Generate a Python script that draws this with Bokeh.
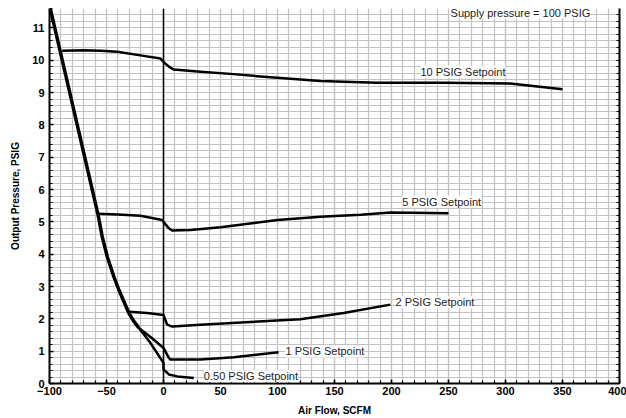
from bokeh.plotting import figure
from bokeh.models import Range1d, LinearAxis, Span, Label, SingleIntervalTicker, FixedTicker
from bokeh.embed import file_html
from bokeh.resources import INLINE

# ---- data ----
env_x = [-100, -62.5, -57.6, -53.8, -49.4, -43.6, -39.2, -30.4, -26, -21.6]
env_y = [11.7, 6.0, 5.25, 4.55, 3.93, 3.31, 2.9, 2.18, 1.92, 1.72]

sp05_x = [-21.6, -11.4, 0, 0, 4.7, 12, 26.6]
sp05_y = [1.72, 1.25, 0.64, 0.44, 0.28, 0.22, 0.17]

sp1_x = [-21.6, -10, 0, 4.7, 6.1, 32.5, 61.7, 101]
sp1_y = [1.72, 1.4, 1.1, 0.79, 0.74, 0.74, 0.81, 0.97]

sp2_x = [-30.4, -14.3, 0, 3.2, 7.6, 32.5, 76, 120, 158, 199]
sp2_y = [2.22, 2.18, 2.12, 1.82, 1.76, 1.82, 1.9, 1.99, 2.18, 2.44]

sp5_x = [-57.6, -40, -20.2, -1.2, 0, 4.7, 7.6, 23.7, 50, 100, 137.7, 173, 199, 250]
sp5_y = [5.25, 5.23, 5.19, 5.06, 5.0, 4.8, 4.73, 4.75, 4.83, 5.06, 5.16, 5.22, 5.29, 5.27]

sp10_x = [-88.9, -69.9, -55.3, -40.6, -20.2, -2.6, 0, 4.7, 9, 32.5, 61.7, 91, 137.7, 187, 246, 304, 350]
sp10_y = [10.29, 10.31, 10.29, 10.26, 10.15, 10.05, 9.95, 9.8, 9.71, 9.64, 9.57, 9.48, 9.36, 9.3, 9.3, 9.28, 9.1]

labels_text = ["10 PSIG Setpoint", "5 PSIG Setpoint", "2 PSIG Setpoint",
               "1 PSIG Setpoint", "0.50 PSIG Setpoint"]
labels_x = [225.4, 209.4, 203.5, 107, 35.4]
labels_y = [9.64, 5.62, 2.51, 0.99, 0.225]

supply_text = "Supply pressure = 100 PSIG"
supply_x = 251.8

x_title = "Air Flow, SCFM"
y_title = "Output Pressure, PSIG"

X_MIN, X_MAX = -100, 400
Y_MIN, Y_MAX = 0, 11.6
Y_STEP = 0.2

FONT = "Liberation Sans"

p = figure(width=626, height=418, output_backend="svg", toolbar_location=None,
           x_range=Range1d(X_MIN, X_MAX), y_range=Range1d(Y_MIN, Y_MAX),
           min_border_left=49, min_border_right=7, min_border_top=8, min_border_bottom=34)
p.outline_line_color = None
p.background_fill_color = "white"

p.xaxis.ticker = SingleIntervalTicker(interval=50, num_minor_ticks=5)
p.yaxis.ticker = SingleIntervalTicker(interval=1, num_minor_ticks=5)

for g in (p.xgrid, p.ygrid):
    g.grid_line_color = "#c2c2c2"
    g.grid_line_width = 1.2
    g.minor_grid_line_color = "#c2c2c2"
    g.minor_grid_line_width = 1.2

for ax in (p.xaxis[0], p.yaxis[0]):
    ax.axis_line_width = 2
    ax.axis_line_color = "black"
    ax.major_tick_in = 4
    ax.major_tick_out = 0
    ax.minor_tick_in = 3
    ax.minor_tick_out = 0
    ax.major_tick_line_width = 1.5
    ax.minor_tick_line_width = 1.2
    ax.major_label_text_font = FONT
    ax.major_label_text_font_style = "bold"
    ax.major_label_text_font_size = "11px"
    ax.major_label_text_color = "black"
    ax.axis_label_text_font = FONT
    ax.axis_label_text_font_style = "bold"
    ax.axis_label_text_font_size = "10px"
    ax.axis_label_text_color = "black"

p.xaxis.axis_label = x_title
p.yaxis.axis_label = y_title
p.xaxis.major_label_standoff = 3
p.xaxis.axis_label_standoff = 7
p.yaxis.major_label_standoff = 5
p.yaxis.axis_label_standoff = 8

n_steps = int(round((Y_MAX - Y_MIN) / Y_STEP))
rax = LinearAxis(ticker=FixedTicker(ticks=[], minor_ticks=[Y_MIN + i * Y_STEP for i in range(n_steps + 1)]))
rax.axis_line_width = 2
rax.major_tick_in = 0
rax.major_tick_out = 0
rax.minor_tick_in = 3
rax.minor_tick_out = 0
rax.minor_tick_line_width = 1.2
rax.major_label_standoff = 0
p.add_layout(rax, "right")

p.add_layout(Span(location=0, dimension="height", line_color="black", line_width=1.5))

p.line(env_x, env_y, line_color="black", line_width=3.5)
for xs, ys in ((sp05_x, sp05_y), (sp1_x, sp1_y), (sp2_x, sp2_y), (sp5_x, sp5_y), (sp10_x, sp10_y)):
    p.line(xs, ys, line_color="black", line_width=2.5, line_join="round")

for t, lx, ly in zip(labels_text, labels_x, labels_y):
    p.add_layout(Label(x=lx, y=ly, text=t, text_font=FONT, text_font_size="11px",
                       text_baseline="middle", text_align="left", text_color="#222222",
                       background_fill_color="white"))

p.add_layout(Label(x=supply_x, y=Y_MAX, y_offset=2, text=supply_text, text_font=FONT,
                   text_font_size="11px", text_baseline="top", text_align="left",
                   text_color="#222222", background_fill_color="white"))

open("out.html", "w").write(file_html(p, INLINE))
